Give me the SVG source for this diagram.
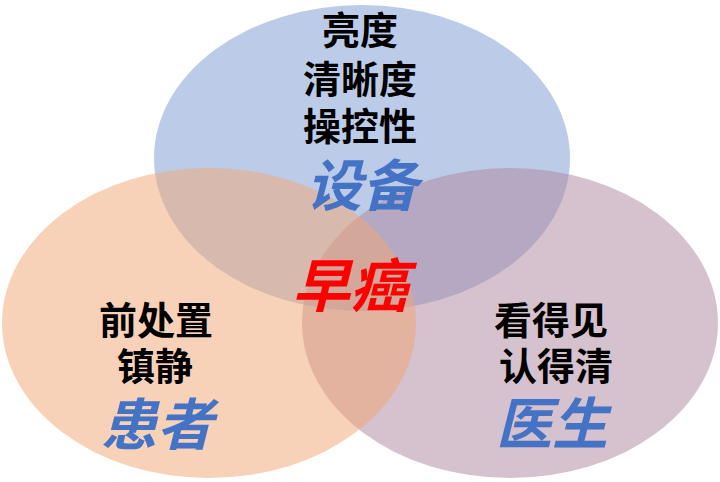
<svg xmlns="http://www.w3.org/2000/svg" width="720" height="482" viewBox="0 0 720 482">
<style>
.e{fill-opacity:0.5;stroke:none}
.t{font-family:"Noto Sans CJK SC","Noto Sans",sans-serif;font-size:38px;font-weight:700;fill:#000;text-anchor:middle}
.k{font-size:56px;font-style:italic;fill:#4472C4}
.r{fill:#FF0000;font-size:58px;font-style:italic}
</style>
<rect width="720" height="482" fill="#fff"/>
<g id="device">
<ellipse class="e" cx="362" cy="158" rx="208" ry="153" fill="#7999D1"/>
</g>
<g id="doctor">
<ellipse class="e" cx="510" cy="323" rx="208" ry="155" fill="#AD839D"/>
</g>
<g id="patient">
<ellipse class="e" cx="209" cy="323" rx="207" ry="155" fill="#F1A571"/>
</g>
<g id="device-text">
<text class="t"><tspan x="360" y="44">亮度</tspan><tspan x="360" y="93">清晰度</tspan><tspan x="360" y="140">操控性</tspan><tspan class="k" x="362" y="206">设备</tspan></text>
</g>
<g id="center">
<text class="t r" x="350" y="307">早癌</text>
</g>
<g id="patient-text">
<text class="t"><tspan x="156" y="334">前处置</tspan><tspan x="155" y="380">镇静</tspan><tspan class="k" x="157" y="445">患者</tspan></text>
</g>
<g id="doctor-text">
<text class="t"><tspan x="551" y="334">看得见</tspan><tspan x="556" y="380">认得清</tspan><tspan class="k" x="552" y="444">医生</tspan></text>
</g>
</svg>
